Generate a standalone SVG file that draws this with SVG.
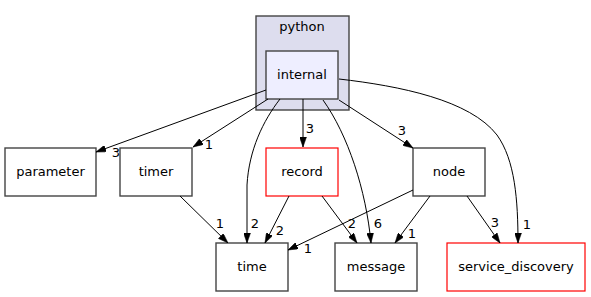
<svg xmlns="http://www.w3.org/2000/svg" width="591" height="297" viewBox="0 0 591 297">
  <style>
    text { font-family: "DejaVu Sans", "Liberation Sans", sans-serif; font-size: 13px; fill: #000; }
    .lbl { text-anchor: middle; }
    .box { fill: #ffffff; stroke: #444444; stroke-width: 1.4; }
    .red { fill: #ffffff; stroke: #ff0000; stroke-width: 1.2; }
    .edge { fill: none; stroke: #000000; stroke-width: 1; marker-end: url(#arrow); }
  </style>
  <defs>
    <marker id="arrow" viewBox="0 0 10 7" refX="10" refY="3.5" markerWidth="10" markerHeight="7" markerUnits="userSpaceOnUse" orient="auto">
      <path d="M0,0 L10,3.5 L0,7 z" fill="#000" stroke="#000" stroke-width="0.5"/>
    </marker>
  </defs>
  <rect width="591" height="297" fill="#ffffff"/>

  <!-- python directory cluster -->
  <g id="cluster_python">
    <rect x="256" y="16" width="93" height="94" fill="#ddddee" stroke="#444444" stroke-width="1.4"/>
    <text class="lbl" x="302" y="31">python</text>
  </g>

  <g id="internal">
    <rect x="266" y="51" width="72" height="48" fill="#eeeeff" stroke="#444444" stroke-width="1.4"/>
    <text class="lbl" x="302" y="79">internal</text>
  </g>

  <g id="parameter">
    <rect class="box" x="5" y="148" width="91" height="48"/>
    <text class="lbl" x="50.5" y="176">parameter</text>
  </g>

  <g id="timer">
    <rect class="box" x="120" y="148" width="72" height="48"/>
    <text class="lbl" x="156" y="176">timer</text>
  </g>

  <g id="record">
    <rect class="red" x="266" y="148" width="72" height="48"/>
    <text class="lbl" x="302" y="176">record</text>
  </g>

  <g id="node">
    <rect class="box" x="413" y="148" width="72" height="48"/>
    <text class="lbl" x="449" y="176">node</text>
  </g>

  <g id="time">
    <rect class="box" x="216" y="243" width="72" height="48"/>
    <text class="lbl" x="252" y="271">time</text>
  </g>

  <g id="message">
    <rect class="box" x="335" y="243" width="82" height="48"/>
    <text class="lbl" x="376" y="271">message</text>
  </g>

  <g id="service_discovery">
    <rect class="red" x="447" y="243" width="138" height="48"/>
    <text class="lbl" x="516" y="271">service_discovery</text>
  </g>

  <!-- dependency edges with their counts -->
  <g id="edges">
    <path class="edge" d="M266,90 L96,152"/>
    <text class="lbl" x="116" y="157">3</text>

    <path class="edge" d="M268,99 L193,147"/>
    <text class="lbl" x="209" y="149">1</text>

    <path class="edge" d="M280,99 C263,121 249,150 247,185 L247,243"/>
    <text class="lbl" x="255" y="228">2</text>

    <path class="edge" d="M303,99 L303,147"/>
    <text class="lbl" x="310" y="133">3</text>

    <path class="edge" d="M323,100 C348,135 366,190 371,243"/>
    <text class="lbl" x="378" y="228">6</text>

    <path class="edge" d="M339,100 L413,148"/>
    <text class="lbl" x="402" y="135">3</text>

    <path class="edge" d="M339,79 C400,86 470,100 497,135 C515,160 518,200 518,243"/>
    <text class="lbl" x="527" y="229">1</text>

    <path class="edge" d="M180,196 L228,243"/>
    <text class="lbl" x="220" y="228">1</text>

    <path class="edge" d="M289,196 L265,243"/>
    <text class="lbl" x="280" y="235">2</text>

    <path class="edge" d="M322,196 L357,243"/>
    <text class="lbl" x="352" y="228">2</text>

    <path class="edge" d="M413,190 L288,250"/>
    <text class="lbl" x="308" y="253">1</text>

    <path class="edge" d="M430,196 L395,243"/>
    <text class="lbl" x="412" y="238">1</text>

    <path class="edge" d="M467,196 L500,243"/>
    <text class="lbl" x="495" y="227">3</text>
  </g>
</svg>
